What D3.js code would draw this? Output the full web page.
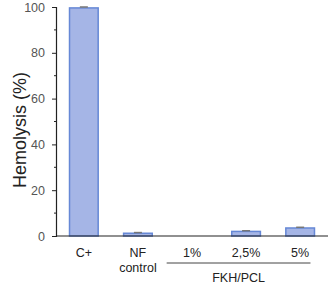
<!DOCTYPE html>
<html>
<head>
<meta charset="utf-8">
<script src="https://cdn.jsdelivr.net/npm/d3@7"></script>
<style>
  body { margin: 0; background: #fff; }
  text { font-family: "Liberation Sans", Arial, sans-serif; }
</style>
</head>
<body>
<div id="chart"></div>
<script>
'use strict';
// data
var categories = ["C+", "NF control", "1%", "2,5%", "5%"];
var values = [99.6, 1.2, 0, 2.0, 3.5];
var errors = [0.4, 0.3, 0, 0.3, 0.3];
var yTicks = [0, 20, 40, 60, 80, 100];
var groupLabel = "FKH/PCL";

var width = 331, height = 285;
var x0 = 56, x1 = 328, yTop = 7, yBot = 236;

var svg = d3.select("#chart").append("svg")
    .attr("width", width)
    .attr("height", height);

var x = d3.scaleBand().domain(categories).range([x0, x1]).paddingInner(0.47).paddingOuter(0.25);
var y = d3.scaleLinear().domain([0, 100]).range([yBot, yTop]);

// bars
svg.selectAll("rect.bar")
    .data(categories)
    .enter().append("rect")
    .attr("class", "bar")
    .attr("x", function(d) { return x(d); })
    .attr("width", x.bandwidth())
    .attr("y", function(d, i) { return y(values[i]); })
    .attr("height", function(d, i) { return y(0) - y(values[i]); })
    .attr("fill", "#a5b5e6")
    .attr("stroke", "#6688d6")
    .attr("stroke-width", 1.5);

// error bars
svg.selectAll("line.err")
    .data(categories.filter(function(d, i) { return values[i] > 0; }))
    .enter().append("line")
    .attr("class", "err")
    .attr("x1", function(d) { return x(d) + x.bandwidth() / 2 - 4; })
    .attr("x2", function(d) { return x(d) + x.bandwidth() / 2 + 4; })
    .attr("y1", function(d) { var i = categories.indexOf(d); return y(values[i] + errors[i]); })
    .attr("y2", function(d) { var i = categories.indexOf(d); return y(values[i] + errors[i]); })
    .attr("stroke", "#777")
    .attr("stroke-width", 1.5);

// y axis
var yAxis = d3.axisLeft(y).tickValues(yTicks).tickSize(4).tickPadding(7);
var gy = svg.append("g").attr("transform", "translate(" + x0 + ",0)").call(yAxis);
gy.select(".domain").attr("stroke", "#222").attr("stroke-width", 1.2);
gy.selectAll(".tick line").attr("stroke", "#222");
gy.selectAll(".tick text").attr("fill", "#555").style("font-size", "12.5px");

// minor ticks
svg.selectAll("line.minor")
    .data([10, 30, 50, 70, 90])
    .enter().append("line")
    .attr("class", "minor")
    .attr("x1", x0 - 2).attr("x2", x0)
    .attr("y1", function(d) { return y(d); })
    .attr("y2", function(d) { return y(d); })
    .attr("stroke", "#222");

// x axis line
svg.append("line")
    .attr("x1", x0).attr("x2", x1)
    .attr("y1", yBot).attr("y2", yBot)
    .attr("stroke", "#222").attr("stroke-width", 1.2);

// category labels
categories.forEach(function(c) {
    var cx = x(c) + x.bandwidth() / 2;
    var parts = c.split(" ");
    parts.forEach(function(p, j) {
        svg.append("text")
            .attr("x", cx)
            .attr("y", 257 + j * 15)
            .attr("text-anchor", "middle")
            .attr("fill", "#222")
            .style("font-size", "12.5px")
            .text(p);
    });
});

// group line + label
var gx1 = x("1%") - 11, gx2 = x("5%") + x.bandwidth() - 4;
svg.append("line")
    .attr("x1", gx1).attr("x2", gx2)
    .attr("y1", 263).attr("y2", 263)
    .attr("stroke", "#444").attr("stroke-width", 1);
svg.append("text")
    .attr("x", (gx1 + gx2) / 2)
    .attr("y", 282)
    .attr("text-anchor", "middle")
    .attr("fill", "#222")
    .style("font-size", "12.5px")
    .text(groupLabel);

// y label
svg.append("text")
    .attr("transform", "translate(26,130) rotate(-90)")
    .attr("text-anchor", "middle")
    .attr("fill", "#222")
    .style("font-size", "18px")
    .text("Hemolysis (%)");
</script>
</body>
</html>
